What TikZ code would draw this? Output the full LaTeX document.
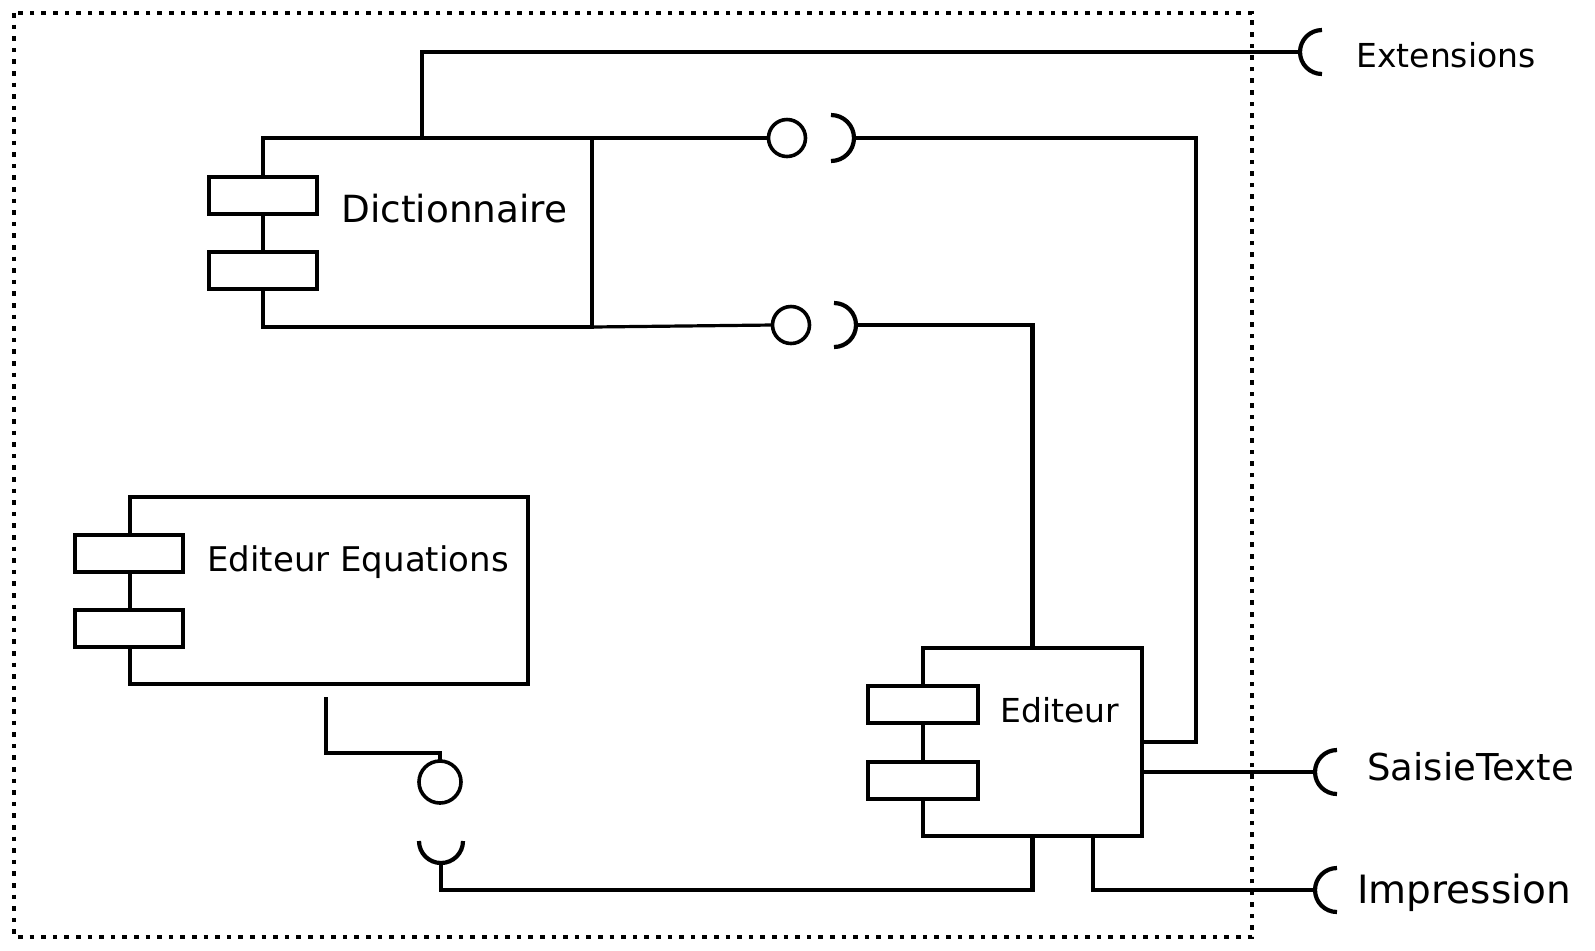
\documentclass[tikz,border=0pt]{standalone}
\usepackage{fontspec}
\setmainfont{DejaVu Sans}
\tikzset{
  comp/.style={draw,line width=2pt,inner sep=0pt,outer sep=0pt},
  port/.style={draw,fill=white,line width=2pt,minimum width=54pt,minimum height=18.5pt,inner sep=0pt,outer sep=0pt},
  ball/.style={circle,draw,line width=1.8pt,inner sep=0pt,outer sep=0pt,minimum size=#1},
  wire/.style={line width=2.1pt},
  lbl/.style={anchor=base west,inner sep=0pt}
}
\begin{document}
\begin{tikzpicture}[x=0.5pt,y=-0.5pt]
  \useasboundingbox (0,0) rectangle (1595,950);
  \draw[line width=2.3pt,dash pattern=on 2.3pt off 3.5pt] (14,13) rectangle (1252,937);
  % components
  \node[comp,minimum width=164.5pt,minimum height=94.5pt] (dict) at (427.5,232.5) {};
  \node[port] (dictA) at (263,195) {};
  \node[port] (dictB) at (263,270.5) {};
  \node[lbl,font=\fontsize{18.7}{20}\selectfont] (dictT) at (341,222) {Dictionnaire};
  \node[comp,minimum width=199pt,minimum height=93.5pt] (eqed) at (329,590.5) {};
  \node[port] (eqedA) at (129,553.5) {};
  \node[port] (eqedB) at (129,628.5) {};
  \node[lbl,font=\fontsize{17}{19}\selectfont] (eqedT) at (207,571) {Editeur Equations};
  \node[comp,minimum width=109.5pt,minimum height=94pt] (ed) at (1032.5,742) {};
  \node[port,minimum width=55pt] (edA) at (923,704.5) {};
  \node[port,minimum width=55pt] (edB) at (923,780.5) {};
  \node[lbl,font=\fontsize{16.5}{18}\selectfont] (edT) at (1000,722) {Editeur};
  % balls and sockets
  \node[ball=18.5pt] (ballA) at (787,138) {};
  \node[ball=18.5pt] (ballB) at (791,325) {};
  \node[ball=21pt] (ballC) at (440,782) {};
  \coordinate (sockA) at (854,138);
  \coordinate (sockB) at (856,325);
  \coordinate (sockC) at (441,863);
  \coordinate (extS) at (1300,52);
  \coordinate (saiS) at (1315,772);
  \coordinate (impS) at (1315,890);
  \draw[wire] (sockA) ++(-23,-23) arc[start angle=-90,end angle=90,radius=23];
  \draw[wire] (sockB) ++(-22,-22) arc[start angle=-90,end angle=90,radius=22];
  \draw[wire] (sockC) ++(22,-22) arc[start angle=0,end angle=180,radius=22];
  \draw[wire] (extS) ++(22,-22) arc[start angle=270,end angle=90,radius=22];
  \draw[wire] (saiS) ++(22,-22) arc[start angle=270,end angle=90,radius=22];
  \draw[wire] (impS) ++(22,-22) arc[start angle=270,end angle=90,radius=22];
  % connectors
  \draw[wire] (dict.north -| 422,0) -- (422,52) -- (extS);
  \draw[wire] (dict.north east) -- (ballA.west);
  \draw[line width=1.6pt] (dict.south east) -- (ballB.west);
  \draw[line width=1.6pt] (dict.north east) -- (dict.south east);
  \draw[wire] (sockA) -| (1196,742) -- (ed.east);
  \draw[wire] (sockB) -| (ed.north);
  \draw[wire] (ed.east |- saiS) -- (saiS);
  \draw[wire] (ed.south) |- (441,890) -- (sockC);
  \draw[wire] (ed.south -| 1093,0) |- (impS);
  \draw[wire] (326,697) |- (440,753) -- (ballC.north);
  % labels
  \node[lbl,font=\fontsize{16.5}{18}\selectfont] (extT) at (1356,67) {Extensions};
  \node[lbl,font=\fontsize{18.5}{20}\selectfont] (saiT) at (1367,780) {SaisieTexte};
  \node[lbl,font=\fontsize{19.5}{21}\selectfont] (impT) at (1357,903) {Impression};
\end{tikzpicture}
\end{document}
